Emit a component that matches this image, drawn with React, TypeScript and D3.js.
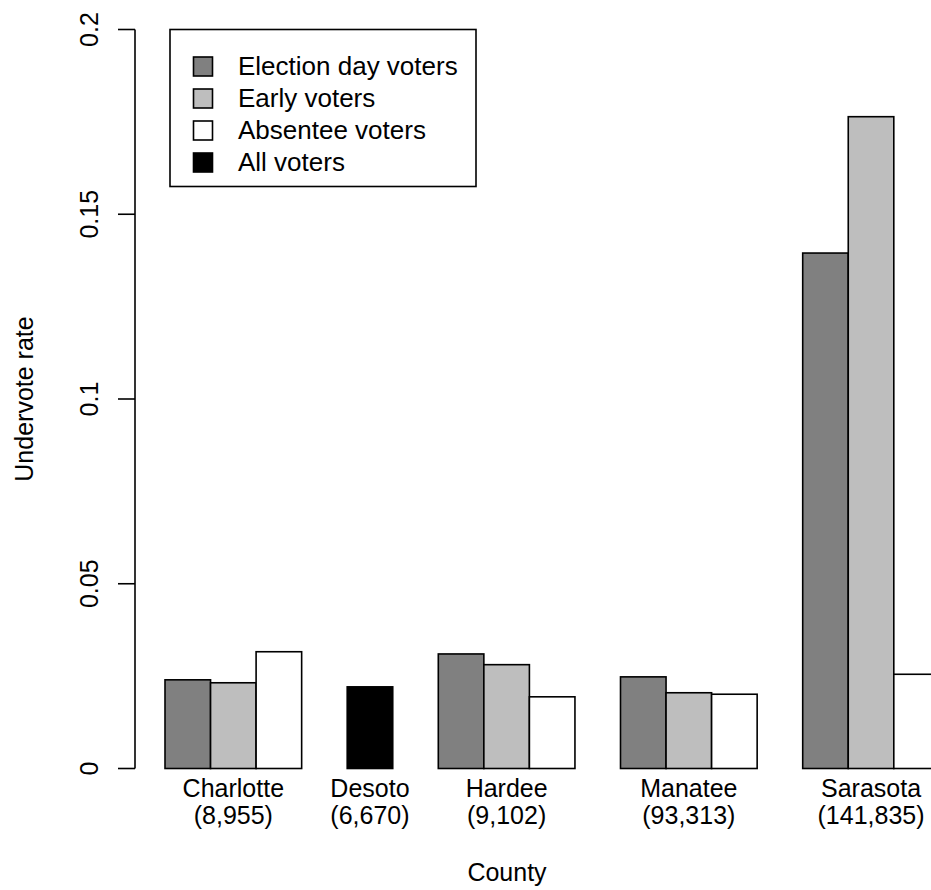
import React from "react";
import * as d3 from "d3";

const counties = ["Charlotte", "Desoto", "Hardee", "Manatee", "Sarasota"];
const voterCounts = ["(8,955)", "(6,670)", "(9,102)", "(93,313)", "(141,835)"];
const electionDay: (number | null)[] = [0.024, null, 0.031, 0.0248, 0.1395];
const earlyVoters: (number | null)[] = [0.0232, null, 0.0281, 0.0205, 0.1764];
const absenteeVoters: (number | null)[] = [0.0316, null, 0.0194, 0.0201, 0.0255];
const allVoters: (number | null)[] = [null, 0.0221, null, null, null];

const seriesNames = ["Election day voters", "Early voters", "Absentee voters", "All voters"];
const seriesValues = [electionDay, earlyVoters, absenteeVoters, allVoters];
const seriesColors = ["#808080", "#BEBEBE", "#FFFFFF", "#000000"];
const yTicks = [0, 0.05, 0.1, 0.15, 0.2];
const yTickLabels = ["0", "0.05", "0.1", "0.15", "0.2"];

const W = 931;
const H = 890;
const FONT = "'Liberation Sans', Arial, Helvetica, sans-serif";
const FS = 25;

export default function App() {
  const bars: { slot: number; value: number; color: string; key: string }[] = [];
  const groupCenters: number[] = [];
  let slot = 0;
  counties.forEach((c, i) => {
    const start = slot;
    seriesValues.forEach((vals, s) => {
      const v = vals[i];
      if (v !== null && v !== undefined) {
        bars.push({ slot, value: v, color: seriesColors[s], key: `${c}-${s}` });
        slot += 1;
      }
    });
    groupCenters.push((start + slot) / 2);
    slot += 1;
  });

  const x = d3.scaleLinear().domain([0, 17]).range([165, 165 + 17 * 45.55]);
  const y = d3.scaleLinear().domain([0, 0.2]).range([768.5, 29.5]);
  const axisX = 135;
  const plotCenterX = 507;

  return (
    <svg
      width={W}
      height={H}
      style={{ position: "absolute", left: 0, top: 0, background: "#fff" }}
      fontFamily={FONT}
    >
      <rect x={0} y={0} width={W} height={H} fill="#fff" />
      {bars.map((b) => (
        <rect
          key={b.key}
          x={x(b.slot)}
          y={y(b.value)}
          width={x(b.slot + 1) - x(b.slot)}
          height={y(0) - y(b.value)}
          fill={b.color}
          stroke="#000"
          strokeWidth={1.6}
        />
      ))}
      <line x1={axisX} x2={axisX} y1={y(0)} y2={y(0.2)} stroke="#000" strokeWidth={1.6} />
      {yTicks.map((t, i) => (
        <g key={t}>
          <line x1={axisX - 17} x2={axisX} y1={y(t)} y2={y(t)} stroke="#000" strokeWidth={1.6} />
          <text
            transform={`translate(98,${y(t)}) rotate(-90)`}
            textAnchor="middle"
            fontSize={FS}
          >
            {yTickLabels[i]}
          </text>
        </g>
      ))}
      <text
        transform={`translate(33,${(y(0) + y(0.2)) / 2}) rotate(-90)`}
        textAnchor="middle"
        fontSize={FS}
      >
        Undervote rate
      </text>
      {counties.map((c, i) => (
        <g key={c}>
          <text x={x(groupCenters[i])} y={797} textAnchor="middle" fontSize={FS}>
            {c}
          </text>
          <text x={x(groupCenters[i])} y={824} textAnchor="middle" fontSize={FS}>
            {voterCounts[i]}
          </text>
        </g>
      ))}
      <text x={plotCenterX} y={881} textAnchor="middle" fontSize={FS}>
        County
      </text>
      <rect x={170} y={29.5} width={306} height={157} fill="#fff" stroke="#000" strokeWidth={1.6} />
      {seriesNames.map((n, i) => (
        <g key={n}>
          <rect
            x={193.5}
            y={57 + i * 32}
            width={19}
            height={19}
            fill={seriesColors[i]}
            stroke="#000"
            strokeWidth={1.6}
          />
          <text x={238} y={75 + i * 32} fontSize={26}>
            {n}
          </text>
        </g>
      ))}
    </svg>
  );
}
